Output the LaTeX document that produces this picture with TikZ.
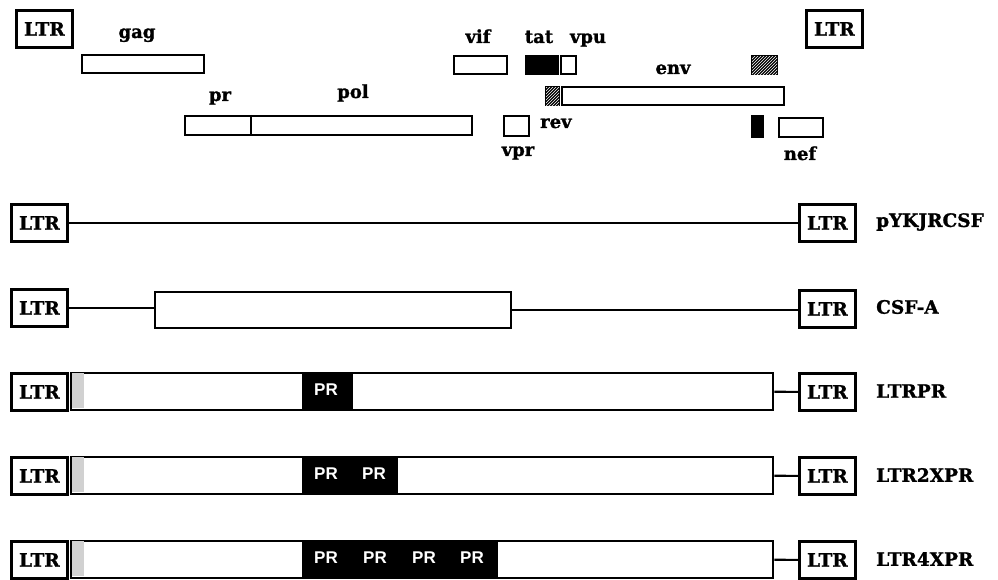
\documentclass[tikz,border=0pt]{standalone}
\usepackage{fontspec}
\setsansfont{Liberation Sans}
\newfontfamily\slabfont[BoldFeatures={FakeBold=1.2}]{DejaVu Serif}
\usetikzlibrary{patterns}
\begin{document}
\begin{tikzpicture}[x=1pt,y=-1pt,
  bx/.style={draw, line width=2.4pt, inner sep=0pt, anchor=north west, fill=white},
  ltr/.style={bx, line width=2.8pt, minimum width=56pt, minimum height=37pt,
     font=\slabfont\bfseries\fontsize{18.5}{20}\selectfont},
  lbl/.style={font=\slabfont\bfseries\fontsize{18}{20}\selectfont, inner sep=0pt, anchor=base},
  cname/.style={font=\slabfont\bfseries\fontsize{18.5}{20}\selectfont, inner sep=0pt, anchor=west},
  blk/.style={bx, fill=black},
  hatch/.style={bx, fill=black, postaction={pattern=north east lines, pattern color=white}},
  stip/.style={anchor=north west, inner sep=0pt, fill=black!18},
  prb/.style={anchor=north west, inner sep=0pt, fill=black, draw=black, line width=1pt},
  prt/.style={text=white, font=\sffamily\bfseries\fontsize{17}{18}\selectfont, inner sep=0pt},
  con/.style={line width=2.1pt}]
\useasboundingbox (0,0) rectangle (998,580);
\fill[white] (0,0) rectangle (998,580);

% ---------- genome map ----------
\node[ltr] (ltrA) at (15,9) {LTR};
\node[ltr] (ltrB) at (805,9) {LTR};
\node[bx, minimum width=122pt, minimum height=18pt] (gag) at (81,54) {};
\node[lbl] (gagL) at (137,38) {gag};
\node[bx, minimum width=53pt, minimum height=18pt] (vif) at (453,55) {};
\node[lbl] (vifL) at (478,43) {vif};
\node[blk, minimum width=32pt, minimum height=18pt] (tat) at (525,55) {};
\node[lbl] (tatL) at (539,43) {tat};
\node[bx, minimum width=15pt, minimum height=18pt] (vpu) at (560,55) {};
\node[lbl] (vpuL) at (588,43) {vpu};
\node[hatch, minimum width=25pt, minimum height=18pt] (hA) at (751,55) {};
\node[lbl] (envL) at (673,74) {env};
\node[hatch, minimum width=13pt, minimum height=18pt] (hB) at (545,86) {};
\node[bx, minimum width=222pt, minimum height=18pt] (env) at (561,86) {};
\node[lbl] (prL) at (220,101) {pr};
\node[lbl] (polL) at (353,98) {pol};
\node[bx, minimum width=287pt, minimum height=19pt] (pol) at (184,115) {};
\draw[line width=2.4pt] (251,115) -- (251,134);
\node[bx, minimum width=25pt, minimum height=20pt] (vpr) at (503,115) {};
\node[lbl] (vprL) at (518,156) {vpr};
\node[lbl, anchor=base west] (revL) at (540,128) {rev};
\node[blk, minimum width=11pt, minimum height=21pt] (bk) at (751,115) {};
\node[bx, minimum width=44pt, minimum height=19pt] (nef) at (778,117) {};
\node[lbl] (nefL) at (800,160) {nef};

% ---------- row 1: pYKJRCSF ----------
\node[ltr] (l1) at (10,203) {LTR};
\node[ltr] (r1) at (798,203) {LTR};
\draw[con] (l1.east) -- (r1.west);
\node[cname] (n1) at (876,222) {pYKJRCSF};

% ---------- row 2: CSF-A ----------
\node[ltr] (l2) at (10,288) {LTR};
\node[ltr] (r2) at (798,289) {LTR};
\node[bx, minimum width=356pt, minimum height=36pt] (csf) at (154,291) {};
\draw[con] (l2.east) -- (l2.east -| csf.west);
\draw[con] (csf.east) -- (csf.east -| r2.west);
\node[cname] (n2) at (876,307) {CSF-A};

% ---------- row 3: LTRPR ----------
\node[ltr] (l3) at (10,372) {LTR};
\node[ltr] (r3) at (798,372) {LTR};
\node[bx, minimum width=702pt, minimum height=37pt] (b3) at (70,372) {};
\node[stip, minimum width=12pt, minimum height=35pt] (s3) at (71.5,373) {};
\node[prb, minimum width=50pt, minimum height=36pt] (p3) at (302,372.5) {};
\node[prt] (t3a) at (326,390) {PR};
\draw[con] (b3.east) -- (r3.west);
\node[cname] (n3) at (876,391) {LTRPR};

% ---------- row 4: LTR2XPR ----------
\node[ltr] (l4) at (10,456) {LTR};
\node[ltr] (r4) at (798,456) {LTR};
\node[bx, minimum width=702pt, minimum height=37pt] (b4) at (70,456) {};
\node[stip, minimum width=12pt, minimum height=35pt] (s4) at (71.5,457) {};
\node[prb, minimum width=95pt, minimum height=36pt] (p4) at (302,456.5) {};
\node[prt] (t4a) at (326,474) {PR};
\node[prt] (t4b) at (374,474) {PR};
\draw[con] (b4.east) -- (r4.west);
\node[cname] (n4) at (876,475) {LTR2XPR};

% ---------- row 5: LTR4XPR ----------
\node[ltr] (l5) at (10,540) {LTR};
\node[ltr] (r5) at (798,540) {LTR};
\node[bx, minimum width=702pt, minimum height=37pt] (b5) at (70,540) {};
\node[stip, minimum width=12pt, minimum height=35pt] (s5) at (71.5,541) {};
\node[prb, minimum width=195pt, minimum height=36pt] (p5) at (302,540.5) {};
\node[prt] (t5a) at (326,558) {PR};
\node[prt] (t5b) at (375,558) {PR};
\node[prt] (t5c) at (424,558) {PR};
\node[prt] (t5d) at (472,558) {PR};
\draw[con] (b5.east) -- (r5.west);
\node[cname] (n5) at (876,559) {LTR4XPR};
\end{tikzpicture}
\end{document}
